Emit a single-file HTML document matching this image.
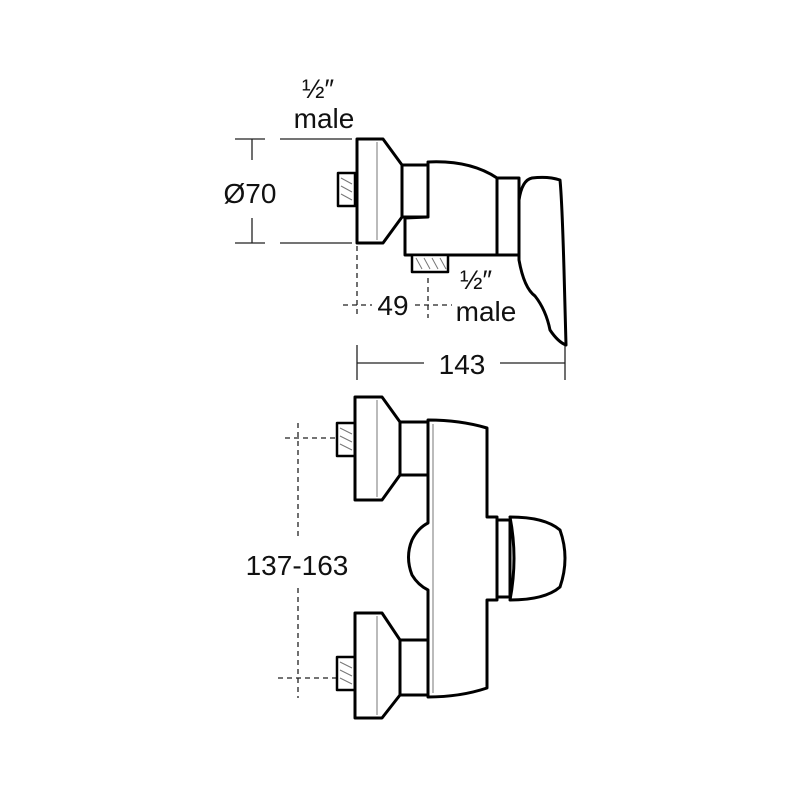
<!DOCTYPE html>
<html><head><style>html,body{margin:0;padding:0;background:#fff}svg{display:block}</style></head>
<body>
<svg width="800" height="800" viewBox="0 0 800 800" xmlns="http://www.w3.org/2000/svg">
<g font-family="Liberation Sans, sans-serif" fill="#111" font-size="28" text-anchor="middle">
<text x="318" y="98" font-size="27">½″</text>
<text x="324" y="128">male</text>
<text x="250" y="203">Ø70</text>
<text x="393" y="315">49</text>
<text x="476" y="289" font-size="27">½″</text>
<text x="486" y="321">male</text>
<text x="462" y="374">143</text>
<text x="297" y="575">137-163</text>
</g>
<g stroke="#222" stroke-width="1.3" fill="none">
<line x1="235" y1="139" x2="265" y2="139"/><line x1="280" y1="139" x2="352" y2="139"/>
<line x1="235" y1="243" x2="265" y2="243"/><line x1="280" y1="243" x2="352" y2="243"/>
<line x1="252" y1="139" x2="252" y2="160"/><line x1="252" y1="218" x2="252" y2="243"/>
<line x1="357" y1="345" x2="357" y2="380"/><line x1="565" y1="345" x2="565" y2="380"/>
<line x1="357" y1="363" x2="424" y2="363"/><line x1="500" y1="363" x2="565" y2="363"/>
</g>
<g stroke="#222" stroke-width="1.3" fill="none" stroke-dasharray="5,4">
<line x1="357" y1="246" x2="357" y2="318"/>
<line x1="428" y1="278" x2="428" y2="318"/>
<line x1="343" y1="305" x2="372" y2="305"/>
<line x1="415" y1="305" x2="452" y2="305"/>
<line x1="285" y1="438" x2="360" y2="438"/>
<line x1="278" y1="678" x2="362" y2="678"/>
<line x1="298" y1="423" x2="298" y2="537"/>
<line x1="298" y1="588" x2="298" y2="698"/>
</g>
<g stroke="#000" stroke-width="3" fill="#fff" stroke-linejoin="round">
<rect x="338" y="173" width="17" height="33" stroke-width="2.5"/>
<path d="M357 139 H383 L402 165 V217 L383 243 H357 Z"/>
<rect x="402" y="165" width="26" height="52"/>
<path d="M405 218 L428 217 L428 162 Q470 160 497 178 V255 H405 Z"/>
<rect x="412" y="255" width="36" height="17" stroke-width="2.5"/>
<rect x="497" y="178" width="22" height="77"/>
<path d="M519 200 Q522 180 532 178 Q548 176 560 180 Q562 200 564 270 L566 345 Q558 342 550 330 Q546 310 535 296 Q524 288 519 260 Z"/>
<rect x="337" y="423" width="18" height="33" stroke-width="2.5"/>
<rect x="337" y="657" width="18" height="33" stroke-width="2.5"/>
<path d="M428 420 Q460 420 487 428 V517 H497 V600 H487 V688 Q460 697 428 697 V590 Q418 585 412 575 Q405 557 412 540 Q418 528 428 523 Z"/>
<path d="M497 520 H510 V597 H497 Z"/>
<path d="M510 517 Q545 517 560 530 Q570 558 560 587 Q545 600 510 600 Q518 558 510 517 Z"/>
<path d="M355 397 H382 L400 422 V475 L382 500 H355 Z"/>
<rect x="400" y="422" width="28" height="53"/>
<path d="M355 613 H382 L400 640 V695 L382 718 H355 Z"/>
<rect x="400" y="640" width="28" height="55"/>
</g>
<g stroke="#777" stroke-width="1" fill="none">
<line x1="377" y1="142" x2="377" y2="240"/>
<line x1="377" y1="400" x2="377" y2="497"/><line x1="377" y1="616" x2="377" y2="715"/>
<line x1="433" y1="424" x2="433" y2="693"/>
<path d="M341 178 L352 184 M341 186 L352 192 M341 194 L352 200 M340 428 L352 434 M340 436 L352 442 M340 444 L352 450 M340 662 L352 668 M340 670 L352 676 M340 678 L352 684 M416 258 L422 269 M424 258 L430 269 M432 258 L438 269 M440 258 L446 269"/>
</g>
</svg>
</body></html>
